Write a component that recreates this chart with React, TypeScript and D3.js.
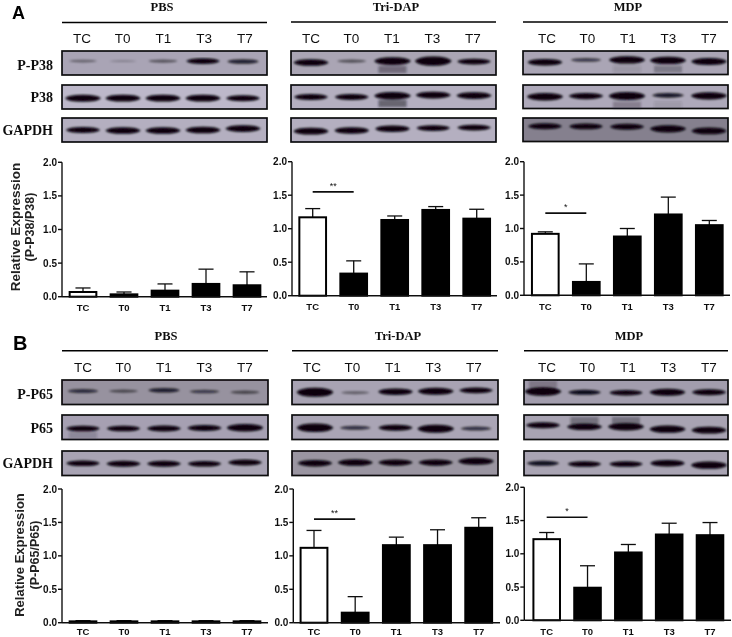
import React from "react";
import * as d3 from "d3";

const lanes = ["TC", "T0", "T1", "T3", "T7"];
const yTicks = [0, 0.5, 1, 1.5, 2];
const groups = ["PBS", "Tri-DAP", "MDP"];
const rowsA = ["P-P38", "P38", "GAPDH"];
const rowsB = ["P-P65", "P65", "GAPDH"];

// bar means and upper error limits
const meanA_PBS = [0.07, 0.035, 0.09, 0.19, 0.17];
const topA_PBS = [0.13, 0.07, 0.19, 0.41, 0.37];
const meanA_Tri = [1.17, 0.33, 1.13, 1.28, 1.15];
const topA_Tri = [1.3, 0.52, 1.19, 1.33, 1.29];
const meanA_MDP = [0.92, 0.2, 0.88, 1.21, 1.05];
const topA_MDP = [0.95, 0.47, 1.0, 1.47, 1.12];
const meanB_PBS = [0.02, 0.02, 0.02, 0.02, 0.02];
const topB_PBS = [0.03, 0.03, 0.03, 0.03, 0.03];
const meanB_Tri = [1.12, 0.15, 1.16, 1.16, 1.42];
const topB_Tri = [1.38, 0.39, 1.28, 1.39, 1.57];
const meanB_MDP = [1.22, 0.49, 1.02, 1.29, 1.28];
const topB_MDP = [1.32, 0.82, 1.14, 1.46, 1.47];

// band strengths per blot row
const bandA_PBS = [[0.18, 0.05, 0.25, 0.7, 0.5], [0.9, 0.85, 0.85, 0.85, 0.72], [0.75, 0.85, 0.85, 0.85, 0.85]];
const bandA_Tri = [[0.85, 0.28, 1.05, 1.3, 0.68], [0.72, 0.72, 1.0, 0.85, 0.85], [0.85, 0.8, 0.8, 0.68, 0.7]];
const bandA_MDP = [[0.8, 0.38, 0.95, 0.95, 0.9], [0.95, 0.78, 1.05, 0.55, 0.95], [0.72, 0.68, 0.75, 0.95, 0.85]];
const bandB_PBS = [[0.42, 0.28, 0.5, 0.35, 0.28], [0.68, 0.68, 0.72, 0.75, 0.98], [0.68, 0.75, 0.72, 0.68, 0.72]];
const bandB_Tri = [[1.25, 0.2, 0.8, 0.92, 0.7], [1.15, 0.42, 0.75, 1.05, 0.42], [0.78, 0.85, 0.78, 0.78, 0.92]];
const bandB_MDP = [[1.15, 0.6, 0.65, 0.92, 0.75], [0.75, 0.85, 0.95, 0.95, 0.85], [0.58, 0.68, 0.68, 0.8, 0.95]];

// vertical band position as a share of the blot height
const levelA_PBS = [[0.42, 0.42, 0.42, 0.42, 0.44], [0.55, 0.55, 0.55, 0.55, 0.55], [0.5, 0.52, 0.52, 0.5, 0.44]];
const levelA_Tri = [[0.48, 0.42, 0.42, 0.42, 0.44], [0.5, 0.5, 0.45, 0.42, 0.44], [0.55, 0.52, 0.45, 0.42, 0.4]];
const levelA_MDP = [[0.48, 0.38, 0.38, 0.4, 0.45], [0.5, 0.47, 0.47, 0.44, 0.46], [0.35, 0.36, 0.37, 0.46, 0.55]];
const levelB_PBS = [[0.45, 0.45, 0.42, 0.47, 0.5], [0.55, 0.55, 0.55, 0.53, 0.52], [0.5, 0.52, 0.52, 0.52, 0.47]];
const levelB_Tri = [[0.5, 0.52, 0.48, 0.46, 0.42], [0.52, 0.52, 0.52, 0.56, 0.55], [0.5, 0.47, 0.47, 0.47, 0.42]];
const levelB_MDP = [[0.47, 0.5, 0.52, 0.5, 0.5], [0.42, 0.48, 0.48, 0.58, 0.62], [0.5, 0.53, 0.53, 0.5, 0.58]];

// faint secondary smears: row, lane, strength, share of blot height where it starts
const smearA_PBS: number[][] = [];
const smearA_Tri = [[0, 2, 0.45, 0.62], [1, 2, 0.55, 0.62]];
const smearA_MDP = [[0, 2, 0.12, 0.62], [0, 3, 0.35, 0.62], [1, 2, 0.3, 0.7], [1, 3, 0.12, 0.7]];
const smearB_PBS = [[1, 0, 0.2, 0.68]];
const smearB_Tri: number[][] = [];
const smearB_MDP = [[0, 0, 0.3, 0.02], [1, 1, 0.4, 0.08], [1, 2, 0.4, 0.08]];

const tintA_PBS = ["#a9a4b5", "#bdb8ca", "#b4afc0"];
const tintA_Tri = ["#aaa5b4", "#b4afc0", "#b4afc0"];
const tintA_MDP = ["#aaa5b5", "#aea9ba", "#85808e"];
const tintB_PBS = ["#97929f", "#a6a0b2", "#a8a3b3"];
const tintB_Tri = ["#a8a3b3", "#aaa5b5", "#9a95a1"];
const tintB_MDP = ["#a29dad", "#a8a3b2", "#a9a4b3"];

const sigA_Tri = { label: "**", value: 1.55 };
const sigA_MDP = { label: "*", value: 1.23 };
const sigB_Tri = { label: "**", value: 1.55 };
const sigB_MDP = { label: "*", value: 1.55 };

const SANS = "'Liberation Sans', Arial, sans-serif";
const SERIF = "'Liberation Serif', 'Times New Roman', serif";

type Sig = { label: string; value: number } | null;

function Blots({ x0, x1, laneFirst, laneLast, labelFirst, labelLast, rowTop, rowH, titleX, titleY, lineY, labelY, title, bands, levels, smears, tints }: any) {
  const laneX = d3.scalePoint<string>().domain(lanes).range([laneFirst, laneLast]);
  const labelX = d3.scalePoint<string>().domain(lanes).range([labelFirst, labelLast]);
  const lens = (cx: number, cy: number, w: number, h: number) =>
    `M${cx - w / 2},${cy}Q${cx - w / 2 + 3},${cy - h / 2} ${cx},${cy - h / 2}Q${cx + w / 2 - 3},${cy - h / 2} ${cx + w / 2},${cy}Q${cx + w / 2 - 3},${cy + h / 2} ${cx},${cy + h / 2}Q${cx - w / 2 + 3},${cy + h / 2} ${cx - w / 2},${cy}Z`;
  return (
    <g>
      <text x={titleX} y={titleY} textAnchor="middle" fontFamily={SERIF} fontWeight="bold" fontSize={12.5} fill="#111">{title}</text>
      <line x1={x0} x2={x1} y1={lineY} y2={lineY} stroke="#000" strokeWidth={1.4} />
      {lanes.map((l) => (
        <text key={l} x={labelX(l)} y={labelY} textAnchor="middle" fontFamily={SANS} fontSize={13.5} fill="#111">{l}</text>
      ))}
      {rowTop.map((top: number, r: number) => (
        <g key={r}>
          <rect x={x0} y={top} width={x1 - x0} height={rowH} fill={tints[r]} stroke="#0b0b0f" strokeWidth={1.7} />
          <g filter="url(#bandBlur)">
            {smears.filter((s: number[]) => s[0] === r).map((s: number[], i: number) => (
              <rect key={i} x={(laneX(lanes[s[1]]) as number) - 14} y={top + rowH * s[3]} width={28} height={rowH * 0.3} fill="#2a2630" opacity={s[2]} />
            ))}
            {lanes.map((l, i) => {
              const v = bands[r][i];
              return (
                <path key={l} d={lens(laneX(l) as number, top + rowH * levels[r][i], 27 + 10 * Math.min(v, 1), 1.6 + 6 * v)}
                  fill="#07060b" opacity={Math.min(1, 0.2 + v * 1.2)} />
              );
            })}
          </g>
        </g>
      ))}
    </g>
  );
}

function Bars({ axisX, right, first, last, top, base, means, tops, sig, labelDy }: any) {
  const step = (last - first) / 4;
  const x = d3.scaleBand<string>().domain(lanes).range([first - step / 2, last + step / 2]).paddingInner(0.3).paddingOuter(0.15);
  const y = d3.scaleLinear().domain([0, 2]).range([base, top]);
  const w = x.bandwidth();
  return (
    <g fontFamily={SANS} fontWeight="bold" fill="#111">
      {lanes.map((l, i) => {
        const bx = x(l) as number;
        const cx = bx + w / 2;
        const yMean = y(means[i]);
        const yTop = y(tops[i]);
        return (
          <g key={l}>
            <line x1={cx} x2={cx} y1={yMean} y2={yTop} stroke="#111" strokeWidth={1.3} />
            <line x1={cx - 7.5} x2={cx + 7.5} y1={yTop} y2={yTop} stroke="#111" strokeWidth={1.3} />
            <rect x={bx + 1} y={yMean} width={w - 2} height={Math.max(0, base - yMean)}
              fill={i === 0 && means[i] > 0.05 ? "#fff" : "#000"} stroke="#000" strokeWidth={2} />
            <text x={cx} y={base + labelDy} textAnchor="middle" fontSize={9.5}>{l}</text>
          </g>
        );
      })}
      <line x1={axisX} x2={axisX} y1={top} y2={base} stroke="#111" strokeWidth={1.4} />
      <line x1={axisX} x2={right} y1={base} y2={base} stroke="#111" strokeWidth={1.4} />
      {yTicks.map((t) => (
        <g key={t}>
          <line x1={axisX - 4} x2={axisX} y1={y(t)} y2={y(t)} stroke="#111" strokeWidth={1.4} />
          <text x={axisX - 5} y={y(t) + 3.5} textAnchor="end" fontSize={10}>{t.toFixed(1)}</text>
        </g>
      ))}
      {sig && (
        <g>
          <line x1={first} x2={first + step} y1={y(sig.value)} y2={y(sig.value)} stroke="#111" strokeWidth={1.6} />
          <text x={first + step / 2} y={y(sig.value) - 3} textAnchor="middle" fontSize={9} fontWeight="normal">{sig.label}</text>
        </g>
      )}
    </g>
  );
}

function YLabel({ x1, x2, cy, second, size, size2 }: any) {
  return (
    <g fontFamily={SANS} fontWeight="bold" fill="#222" textAnchor="middle">
      <text transform={`translate(${x1},${cy}) rotate(-90)`} fontSize={size}>Relative Expression</text>
      <text transform={`translate(${x2},${cy}) rotate(-90)`} fontSize={size2}>{second}</text>
    </g>
  );
}

export default function App() {
  return (
    <svg width={732} height={637} viewBox="0 0 732 637" style={{ position: "fixed", left: 0, top: 0, background: "#fff" }}>
      <defs>
        <filter id="bandBlur" x="-5%" y="-20%" width="110%" height="140%">
          <feGaussianBlur stdDeviation="0.9" />
        </filter>
        <filter id="soft" filterUnits="userSpaceOnUse" x="0" y="0" width="732" height="637">
          <feGaussianBlur stdDeviation="0.3" />
        </filter>
      </defs>
      <g filter="url(#soft)">
      <text x={12} y={19} fontFamily={SANS} fontWeight="bold" fontSize={18} fill="#000">A</text>
      <text x={13} y={349.5} fontFamily={SANS} fontWeight="bold" fontSize={20} fill="#000">B</text>

      {rowsA.map((r, i) => (
        <text key={r} x={53} y={[69.5, 101.5, 134.5][i]} textAnchor="end" fontFamily={SERIF} fontWeight="bold" fontSize={14} fill="#111">{r}</text>
      ))}
      {rowsB.map((r, i) => (
        <text key={r} x={53} y={[398.5, 432.5, 467.5][i]} textAnchor="end" fontFamily={SERIF} fontWeight="bold" fontSize={14} fill="#111">{r}</text>
      ))}

      <Blots title={groups[0]} x0={62} x1={267} laneFirst={83} laneLast={243} labelFirst={82} labelLast={245} rowTop={[51, 85, 118]} rowH={24} titleX={162} titleY={11.2} lineY={22.5} labelY={43} bands={bandA_PBS} levels={levelA_PBS} smears={smearA_PBS} tints={tintA_PBS} />
      <Blots title={groups[1]} x0={291} x1={496} laneFirst={311} laneLast={474} labelFirst={311} labelLast={473} rowTop={[51, 85, 118]} rowH={24} titleX={396} titleY={11.2} lineY={22} labelY={43} bands={bandA_Tri} levels={levelA_Tri} smears={smearA_Tri} tints={tintA_Tri} />
      <Blots title={groups[2]} x0={523} x1={728} laneFirst={545} laneLast={709} labelFirst={547} labelLast={709} rowTop={[51, 85, 118]} rowH={23.5} titleX={628} titleY={11.2} lineY={22} labelY={43} bands={bandA_MDP} levels={levelA_MDP} smears={smearA_MDP} tints={tintA_MDP} />

      <Bars axisX={62} right={267} first={83} last={247} top={162.3} base={296.7} means={meanA_PBS} tops={topA_PBS} sig={null as Sig} labelDy={14.5} />
      <Bars axisX={292} right={497} first={312.7} last={476.7} top={161.7} base={295.7} means={meanA_Tri} tops={topA_Tri} sig={sigA_Tri} labelDy={14.5} />
      <Bars axisX={524} right={730} first={545.3} last={709.3} top={161.7} base={295.3} means={meanA_MDP} tops={topA_MDP} sig={sigA_MDP} labelDy={14.5} />
      <YLabel x1={19.5} x2={33.5} cy={227} second="(P-P38/P38)" size={13.5} size2={12.5} />

      <Blots title={groups[0]} x0={62} x1={268} laneFirst={83} laneLast={245} labelFirst={83} labelLast={245} rowTop={[380, 415, 451]} rowH={24.5} titleX={166} titleY={339.5} lineY={350.7} labelY={372} bands={bandB_PBS} levels={levelB_PBS} smears={smearB_PBS} tints={tintB_PBS} />
      <Blots title={groups[1]} x0={292} x1={498} laneFirst={315} laneLast={476} labelFirst={312} labelLast={474} rowTop={[380, 415, 451]} rowH={24.5} titleX={398} titleY={339.5} lineY={350.7} labelY={372} bands={bandB_Tri} levels={levelB_Tri} smears={smearB_Tri} tints={tintB_Tri} />
      <Blots title={groups[2]} x0={524} x1={728} laneFirst={543} laneLast={709} labelFirst={547} labelLast={709} rowTop={[380, 415, 451]} rowH={24.5} titleX={629} titleY={339.5} lineY={350.7} labelY={372} bands={bandB_MDP} levels={levelB_MDP} smears={smearB_MDP} tints={tintB_MDP} />

      <Bars axisX={62} right={268} first={83} last={247} top={489} base={622.7} means={meanB_PBS} tops={topB_PBS} sig={null as Sig} labelDy={12} />
      <Bars axisX={293.3} right={500} first={314} last={478.7} top={489} base={622.7} means={meanB_Tri} tops={topB_Tri} sig={sigB_Tri} labelDy={12} />
      <Bars axisX={524.3} right={731} first={546.7} last={710} top={487.3} base={620.3} means={meanB_MDP} tops={topB_MDP} sig={sigB_MDP} labelDy={14.4} />
      <YLabel x1={23.5} x2={38.5} cy={555} second="(P-P65/P65)" size={13} size2={12.5} />
      </g>
    </svg>
  );
}
